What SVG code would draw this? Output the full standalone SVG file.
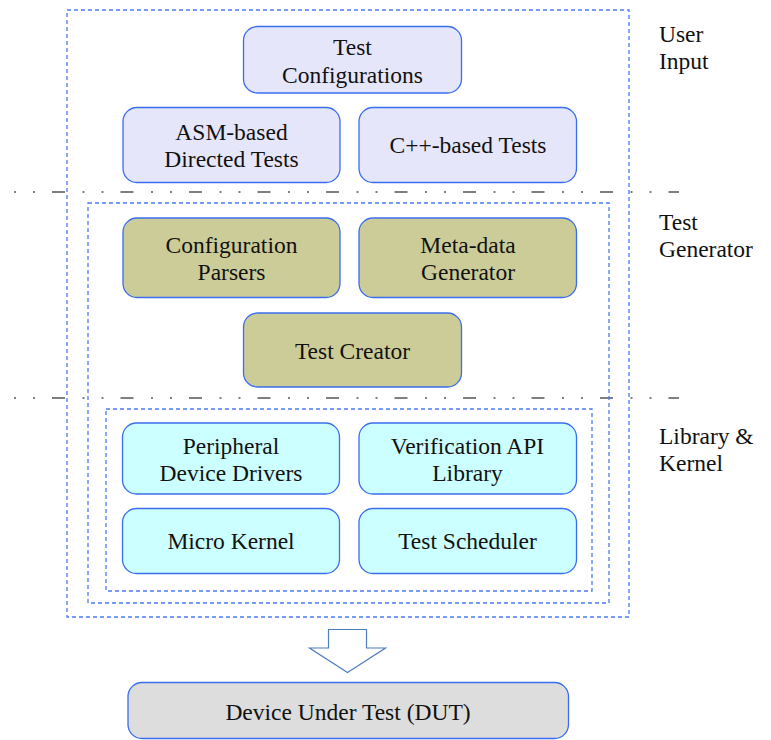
<svg xmlns="http://www.w3.org/2000/svg" width="771" height="740" viewBox="0 0 771 740">
  <style>
    text { font-family: "Liberation Serif", "Times New Roman", "DejaVu Serif", serif; font-size: 23.5px; fill: #111; }
    .c { text-anchor: middle; }
    .node { stroke: #3a6df0; stroke-width: 1.3; }
    .ui { fill: #e6e6fa; }
    .gen { fill: #cccc99; }
    .lib { fill: #ccffff; }
    .dut { fill: #dddddd; }
    .frame { fill: none; stroke: #4a7cf5; stroke-width: 1.3; stroke-dasharray: 4 3; }
    .sep { fill: none; stroke: #555; stroke-width: 1.6; stroke-dasharray: 2 17 2 17 13 17.5; }
  </style>

  <!-- layer separators -->
  <g id="separators">
    <line class="sep" x1="14" y1="192" x2="679" y2="192"/>
    <line class="sep" x1="14" y1="398" x2="679" y2="398"/>
  </g>

  <!-- nested layer frames -->
  <g id="frames">
    <rect class="frame" x="67" y="10" width="562" height="607"/>
    <rect class="frame" x="88" y="203" width="521" height="400"/>
    <rect class="frame" x="106" y="409" width="486" height="182"/>
  </g>

  <!-- layer labels -->
  <g id="labels">
    <text x="659" y="42">User</text>
    <text x="659" y="69">Input</text>
    <text x="659" y="230">Test</text>
    <text x="659" y="257">Generator</text>
    <text x="659" y="444">Library &amp;</text>
    <text x="659" y="471">Kernel</text>
  </g>

  <!-- user input -->
  <g id="test-configurations">
    <rect class="node ui" x="243.5" y="26.5" width="218" height="66.5" rx="14"/>
    <text class="c" x="352.5" y="55">Test</text>
    <text class="c" x="352.5" y="82.5">Configurations</text>
  </g>
  <g id="asm-tests">
    <rect class="node ui" x="123" y="107.5" width="217" height="75" rx="14"/>
    <text class="c" x="231.5" y="139.5">ASM-based</text>
    <text class="c" x="231.5" y="167">Directed Tests</text>
  </g>
  <g id="cpp-tests">
    <rect class="node ui" x="359" y="107.5" width="217.5" height="75" rx="14"/>
    <text class="c" x="468" y="153">C++-based Tests</text>
  </g>

  <!-- test generator -->
  <g id="configuration-parsers">
    <rect class="node gen" x="123" y="218" width="217" height="79.5" rx="14"/>
    <text class="c" x="231.5" y="253">Configuration</text>
    <text class="c" x="231.5" y="280">Parsers</text>
  </g>
  <g id="metadata-generator">
    <rect class="node gen" x="359" y="218" width="217.5" height="79.5" rx="14"/>
    <text class="c" x="468" y="253">Meta-data</text>
    <text class="c" x="468" y="280">Generator</text>
  </g>
  <g id="test-creator">
    <rect class="node gen" x="243.5" y="313" width="218" height="74" rx="14"/>
    <text class="c" x="352.5" y="359">Test Creator</text>
  </g>

  <!-- library and kernel -->
  <g id="peripheral-drivers">
    <rect class="node lib" x="122.5" y="423" width="217" height="71" rx="14"/>
    <text class="c" x="231" y="454">Peripheral</text>
    <text class="c" x="231" y="481">Device Drivers</text>
  </g>
  <g id="verification-api">
    <rect class="node lib" x="359" y="423" width="217.5" height="71" rx="14"/>
    <text class="c" x="467.5" y="454">Verification API</text>
    <text class="c" x="467.5" y="481">Library</text>
  </g>
  <g id="micro-kernel">
    <rect class="node lib" x="122.5" y="508.5" width="217" height="65" rx="14"/>
    <text class="c" x="231" y="549">Micro Kernel</text>
  </g>
  <g id="test-scheduler">
    <rect class="node lib" x="359" y="508.5" width="217.5" height="65" rx="14"/>
    <text class="c" x="467.5" y="549">Test Scheduler</text>
  </g>

  <!-- flow to device -->
  <g id="connectors">
    <path d="M328.5 629.5 H366.5 V648 H385.5 L347.5 672.5 L309.5 648 H328.5 Z" fill="#fff" stroke="#4f7fc0" stroke-width="1.2"/>
  </g>

  <g id="dut">
    <rect class="node dut" x="128" y="682.5" width="440.5" height="56" rx="14"/>
    <text class="c" x="348" y="720">Device Under Test (DUT)</text>
  </g>
</svg>
